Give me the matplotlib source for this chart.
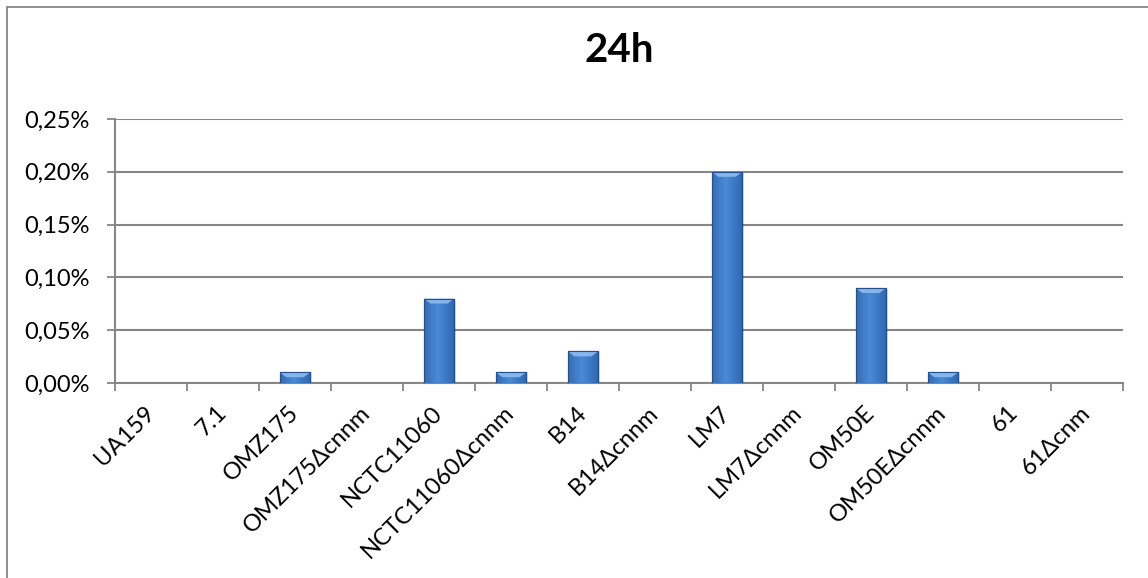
import numpy as np
import matplotlib
matplotlib.use("Agg")
import matplotlib.pyplot as plt
from matplotlib.patches import Rectangle, Polygon
from matplotlib.ticker import FuncFormatter, FixedLocator, NullFormatter

# strains and % values at 24h
strains = ["UA159", "7.1", "OMZ175", "OMZ175Δcnnm", "NCTC11060",
           "NCTC11060Δcnnm", "B14", "B14Δcnnm", "LM7", "LM7Δcnnm",
           "OM50E", "OM50EΔcnnm", "61", "61Δcnm"]
values = [0.0, 0.0, 0.01, 0.0, 0.08, 0.01, 0.03, 0.0, 0.20, 0.0,
          0.09, 0.01, 0.0, 0.0]
y_ticks = [0.0, 0.05, 0.10, 0.15, 0.20, 0.25]

plt.rcParams['font.family'] = ['Lato', 'DejaVu Sans']
GRID = "#868686"

fig = plt.figure(figsize=(11.48, 5.78), dpi=100)
W, H = 1148, 578

# outer chart border (right/bottom edges cropped off)
fig.patches.append(Rectangle((7 / W, -0.05), 1.2, 1 - 7 / H + 0.05,
                             transform=fig.transFigure, fill=False,
                             edgecolor=GRID, linewidth=1.3))

ax = fig.add_axes([115 / W, 1 - 383 / H, (1123 - 115) / W, (383 - 119) / H])
n = len(strains)
x = np.arange(n)
ax.set_xlim(-0.5, n - 0.5)
ax.set_ylim(0, 0.25)

for s in ["top", "right"]:
    ax.spines[s].set_visible(False)
for s in ["left", "bottom"]:
    ax.spines[s].set_color(GRID)
    ax.spines[s].set_linewidth(1.5)

ax.yaxis.set_major_locator(FixedLocator(y_ticks))
ax.yaxis.set_major_formatter(FuncFormatter(lambda v, p: f"{v:.2f}%".replace(".", ",")))
ax.grid(axis="y", color=GRID, linewidth=1.5)
ax.set_axisbelow(True)
ax.tick_params(axis="y", length=6, width=1.3, color=GRID, labelsize=17, pad=12)

# x ticks at category boundaries, labels at centres
ax.xaxis.set_major_locator(FixedLocator(np.arange(n + 1) - 0.5))
ax.xaxis.set_major_formatter(NullFormatter())
ax.set_xticks(x, minor=True)
ax.set_xticklabels(strains, minor=True, rotation=45, ha="right",
                   va="center", rotation_mode="anchor", fontsize=17)
ax.tick_params(axis="x", which="major", length=6, width=1.3, color=GRID)
ax.tick_params(axis="x", which="minor", length=0, pad=19)

# bars with a shaded, bevelled look
bw = 0.42
px = 0.25 / (383 - 119)  # data units per pixel
grad = np.linspace(0, 1, 64)
shade = 1 - 0.55 * np.abs(grad - 0.45) * 2
cmap = matplotlib.colors.LinearSegmentedColormap.from_list(
    "b", ["#1f4f8f", "#4a8ad8"])
for xi, v in zip(x, values):
    if v <= 0:
        continue
    # soft shadow
    ax.add_patch(Rectangle((xi - bw / 2 + 0.03, -0.0), bw, v - px,
                           facecolor="#000000", alpha=0.12, linewidth=0,
                           zorder=2))
    bar = ax.bar(xi, v, width=bw, color="#3a74c0", edgecolor="#234f8a",
                 linewidth=0.8, zorder=3)[0]
    im = ax.imshow(shade[None, :], cmap=cmap, aspect="auto", vmin=0, vmax=1,
                   extent=(xi - bw / 2, xi + bw / 2, 0, v), zorder=3.5)
    im.set_clip_path(bar)
    cap = min(5 * px, v * 0.45)
    inset = min(0.09, bw / 3)
    ax.add_patch(Polygon([(xi - bw / 2, v), (xi + bw / 2, v),
                          (xi + bw / 2 - inset, v - cap),
                          (xi - bw / 2 + inset, v - cap)],
                         closed=True, facecolor="#8dbcf0", edgecolor="none",
                         alpha=0.9, zorder=4))
    ax.add_patch(Rectangle((xi - bw / 2, 0), bw, v, fill=False,
                           edgecolor="#234f8a", linewidth=0.8, zorder=4.5))

ax.set_title("24h", fontsize=29, fontweight="bold", pad=41)

fig.savefig("out.png", dpi=100)
